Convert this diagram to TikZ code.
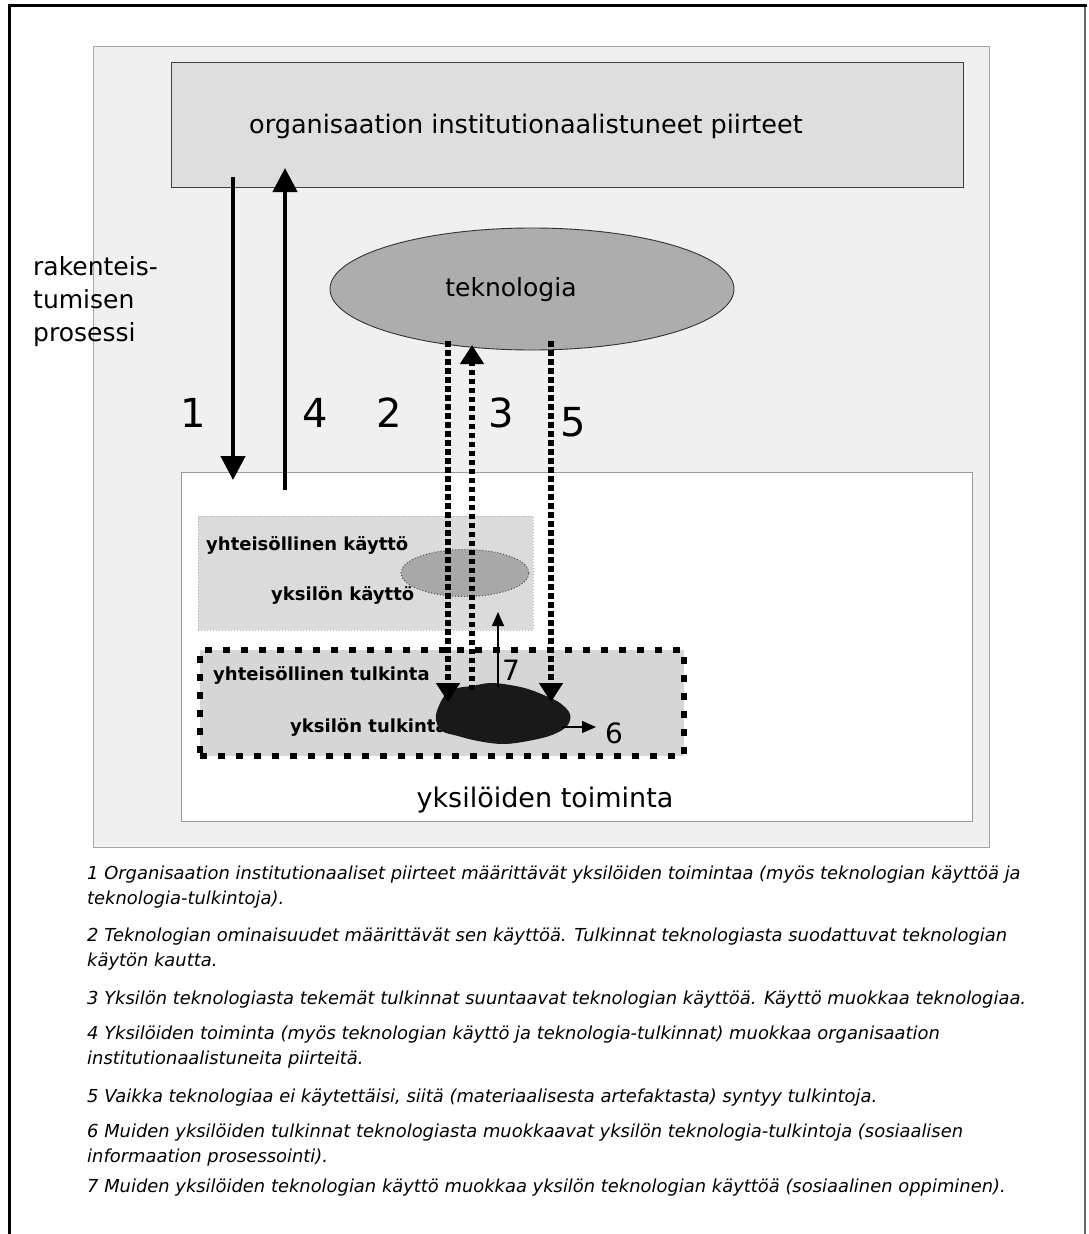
\documentclass[tikz,border=0pt]{standalone}
\usepackage{fontspec}
\setmainfont{DejaVu Sans}
\usetikzlibrary{arrows.meta,shapes.geometric}
\newcommand\myfs[1]{\fontsize{#1}{#1}\selectfont}
\definecolor{panelgray}{gray}{0.94}
\definecolor{topgray}{gray}{0.87}
\definecolor{techgray}{gray}{0.68}
\definecolor{usegray}{gray}{0.86}
\definecolor{smallgray}{gray}{0.66}
\definecolor{interpgray}{gray}{0.84}
\tikzset{
  panel/.style={draw=gray!70, line width=1pt, fill=panelgray, inner sep=0, outer sep=0},
  topbox/.style={draw=black!75, line width=0.9pt, fill=topgray, inner sep=0, outer sep=0},
  techell/.style={ellipse, draw=black!80, line width=0.9pt, fill=techgray, inner sep=0, outer sep=0},
  whitebox/.style={draw=gray!80, line width=1pt, fill=white, inner sep=0, outer sep=0},
  usebox/.style={draw=gray!60, line width=1pt, dotted, fill=usegray, inner sep=0, outer sep=0},
  useell/.style={ellipse, draw=black!70, line width=1pt, dotted, fill=smallgray, inner sep=0, outer sep=0},
  interpbox/.style={draw=black, line width=6pt, dash pattern=on 7pt off 11pt, fill=interpgray, inner sep=0, outer sep=0},
  bigarrow/.style={line width=4.5pt, -{Triangle[length=24pt,width=24pt]}},
  dotarrow/.style={line width=5.5pt, dash pattern=on 5.5pt off 3.5pt, -{Triangle[length=19pt,width=23pt]}},
  thinarrow/.style={line width=1.3pt, -{Triangle[length=14pt,width=12pt]}},
  note/.style={anchor=west, inner sep=0, font=\itshape\myfs{17.9}},
  boldlbl/.style={anchor=west, inner sep=0, font=\bfseries\myfs{18}},
  numlbl/.style={inner sep=0, anchor=base, font=\myfs{40}},
  smallnum/.style={inner sep=0, anchor=base, font=\myfs{28}},
  sidelbl/.style={anchor=base west, inner sep=0, font=\myfs{25}},
}
\begin{document}
\begin{tikzpicture}[x=1pt,y=-1pt]
\useasboundingbox (0,0) rectangle (1088,1234);
% outer frame
\coordinate (fbl) at (9.5,1234);
\coordinate (ftl) at (9.5,5.5);
\coordinate (ftr) at (1085,5.5);
\coordinate (fbr) at (1085,1234);
\draw[line width=1.2pt, gray!80!black] (ftr) -- (fbr);
\draw[line width=3.5pt, line cap=rect] (fbl) -- (ftl) -- (ftr);

% panels
\node[panel, minimum width=896pt, minimum height=801pt] (panel) at (541,446.5) {};
\node[topbox, minimum width=792pt, minimum height=125pt] (org) at (567,124.5) {};
\node[inner sep=0, font=\myfs{25.5}] (orgtxt) at (526,126) {organisaation institutionaalistuneet piirteet};
\node[techell, minimum width=404pt, minimum height=122pt] (tech) at (532,289) {};
\node[inner sep=0, font=\myfs{25}] (techtxt) at (511,290) {teknologia};
\node[whitebox, minimum width=791pt, minimum height=349pt] (act) at (576.5,646.5) {};
\node[inner sep=0, font=\myfs{27}] (acttxt) at (545,800) {yksilöiden toiminta};

% use box
\node[usebox, minimum width=335pt, minimum height=114pt] (use) at (365.5,573) {};
\node[useell, minimum width=128pt, minimum height=47pt] (iuse) at (465,573) {};
\node[boldlbl] (usetxt) at (206,545) {yhteisöllinen käyttö};
\node[boldlbl] (iusetxt) at (271,595) {yksilön käyttö};

% interpretation box
\node[interpbox, minimum width=484pt, minimum height=106pt] (interp) at (442,703) {};
\node[boldlbl] (interptxt) at (213,675) {yhteisöllinen tulkinta};
\node[boldlbl] (iinterptxt) at (290,727) {yksilön tulkinta};

% side label
\node[sidelbl] (r1) at (33,275) {rakenteis-};
\node[sidelbl] (r2) at (33,308) {tumisen};
\node[sidelbl] (r3) at (33,341) {prosessi};

% numbers
\node[numlbl] (n1) at (193,427) {1};
\node[numlbl] (n4) at (315,427) {4};
\node[numlbl] (n2) at (389,427) {2};
\node[numlbl] (n3) at (501,427) {3};
\node[numlbl] (n5) at (573,436) {5};

% thick arrows 1 and 4
\coordinate (a1s) at (233,177);
\coordinate (a1e) at (233,480);
\coordinate (a4s) at (285,490);
\coordinate (a4e) at (285,168);
\draw[bigarrow] (a1s) -- (a1e);
\draw[bigarrow] (a4s) -- (a4e);

% blob (individual interpretation)
\path[fill=black!90] plot[smooth cycle, tension=0.6] coordinates {
  (438,708) (446,694) (458,688) (472,686) (490,683) (510,685) (528,689)
  (546,696) (560,703) (570,714) (567,726) (552,735) (528,741) (503,744)
  (478,741) (458,736) (442,731) (436,720)};
\coordinate (blobtop) at (498,687);
\coordinate (blobright) at (562,727);

% dotted arrows 2, 3, 5
\coordinate (d2s) at (448,341);
\coordinate (d2e) at (448,702);
\coordinate (d3s) at (472,690);
\coordinate (d3e) at (472,345);
\coordinate (d5s) at (551,341);
\coordinate (d5e) at (551,702);
\draw[dotarrow] (d2s) -- (d2e);
\draw[dotarrow] (d3s) -- (d3e);
\draw[dotarrow] (d5s) -- (d5e);

% thin arrows 6 and 7
\coordinate (a7e) at (498,612);
\coordinate (a6e) at (596,727);
\draw[thinarrow] (blobtop) -- (a7e);
\draw[thinarrow] (blobright) -- (a6e);
\node[smallnum] (n7) at (511,680) {7};
\node[smallnum] (n6) at (614,743) {6};

% notes
\node[note] (t1a) at (87,875) {1 Organisaation institutionaaliset piirteet määrittävät yksilöiden toimintaa (myös teknologian käyttöä ja};
\node[note] (t1b) at (87,900) {teknologia-tulkintoja).};
\node[note] (t2a) at (87,937) {2 Teknologian ominaisuudet määrittävät sen käyttöä. Tulkinnat teknologiasta suodattuvat teknologian};
\node[note] (t2b) at (87,962) {käytön kautta.};
\node[note] (t3) at (87,1000) {3 Yksilön teknologiasta tekemät tulkinnat suuntaavat teknologian käyttöä. Käyttö muokkaa teknologiaa.};
\node[note] (t4a) at (87,1035) {4 Yksilöiden toiminta (myös teknologian käyttö ja teknologia-tulkinnat) muokkaa organisaation};
\node[note] (t4b) at (87,1060) {institutionaalistuneita piirteitä.};
\node[note] (t5) at (87,1098) {5 Vaikka teknologiaa ei käytettäisi, siitä (materiaalisesta artefaktasta) syntyy tulkintoja.};
\node[note] (t6a) at (87,1133) {6 Muiden yksilöiden tulkinnat teknologiasta muokkaavat yksilön teknologia-tulkintoja (sosiaalisen};
\node[note] (t6b) at (87,1158) {informaation prosessointi).};
\node[note] (t7) at (87,1188) {7 Muiden yksilöiden teknologian käyttö muokkaa yksilön teknologian käyttöä (sosiaalinen oppiminen).};
\end{tikzpicture}
\end{document}
